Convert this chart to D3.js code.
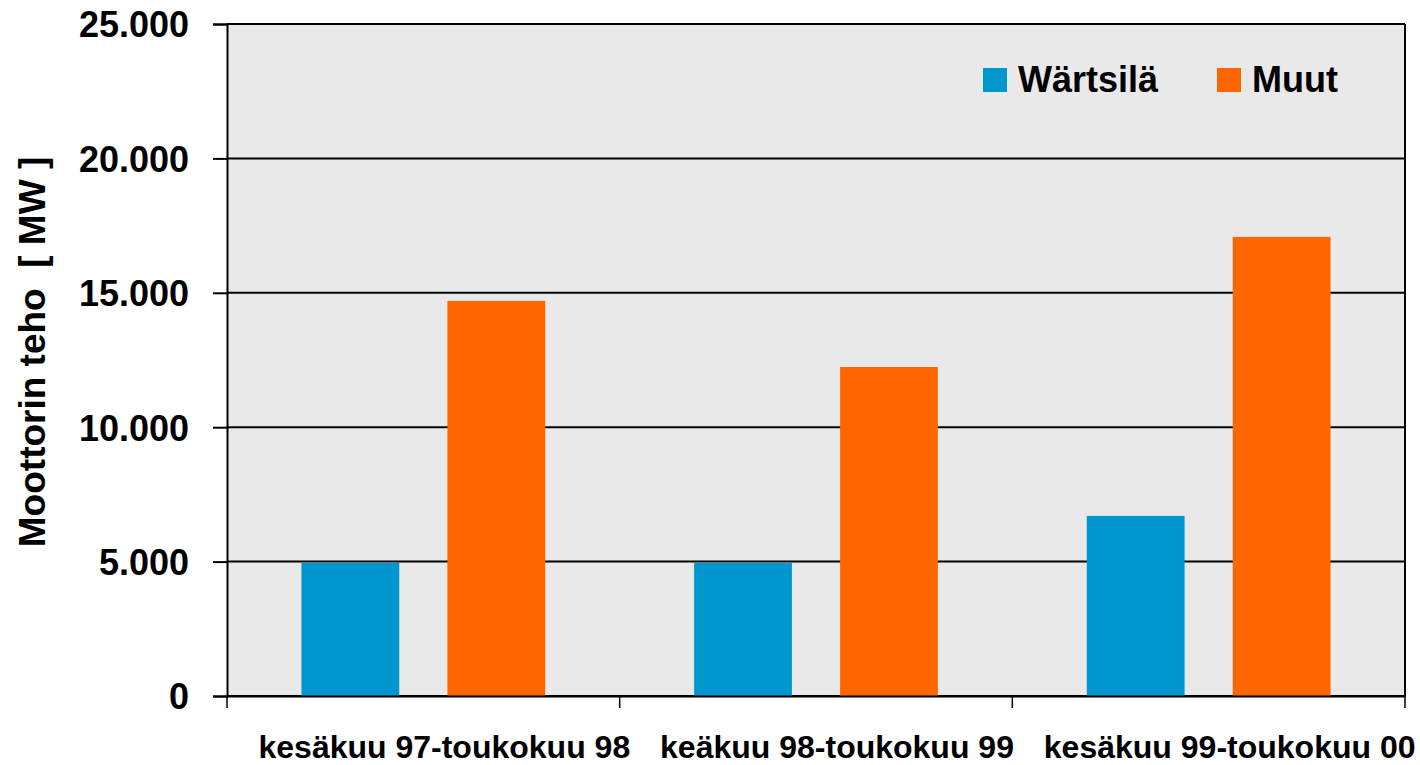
<!DOCTYPE html>
<html>
<head>
<meta charset="utf-8">
<style>
body { margin: 0; background: #fff; }
svg text { font-family: "Liberation Sans", Arial, sans-serif; font-weight: bold; fill: #000; }
.grid line { stroke: #000; stroke-width: 2px; }
</style>
<title>Moottorin teho</title>
</head>
<body>
<div id="chart"></div>
<script src="https://d3js.org/d3.v7.min.js"></script>
<script>
// data
var categories = ["kesäkuu 97-toukokuu 98", "keäkuu 98-toukokuu 99", "kesäkuu 99-toukokuu 00"];
var series = ["Wärtsilä", "Muut"];
var wartsila = [4950, 4950, 6700];
var muut = [14700, 12240, 17080];
var yTicks = [0, 5000, 10000, 15000, 20000, 25000];
var colors = ["#0096cf", "#ff6600"];

var width = 1420, height = 765;
var plotLeft = 227, plotRight = 1405, plotTop = 24, plotBottom = 696;

var svg = d3.select("#chart").append("svg")
    .attr("width", width)
    .attr("height", height);

var x = d3.scaleBand()
    .domain(categories)
    .range([plotLeft, plotRight]);

var xs = d3.scaleBand()
    .domain(series)
    .range([0, x.bandwidth()])
    .paddingInner(0.33)
    .paddingOuter(0.51);

var y = d3.scaleLinear()
    .domain([0, 25000])
    .range([plotBottom, plotTop]);

var color = d3.scaleOrdinal().domain(series).range(colors);

// plot background
svg.append("rect")
    .attr("x", plotLeft).attr("y", plotTop)
    .attr("width", plotRight - plotLeft).attr("height", plotBottom - plotTop)
    .attr("fill", "#e9e9e9");

// gridlines
svg.append("g")
    .attr("class", "grid")
    .selectAll("line")
    .data(yTicks)
    .enter().append("line")
    .attr("x1", plotLeft).attr("x2", plotRight)
    .attr("y1", function(d) { return y(d); })
    .attr("y2", function(d) { return y(d); });

// bars
var rows = categories.map(function(c, i) {
    return { cat: c, values: [wartsila[i], muut[i]] };
});

svg.append("g")
    .selectAll("g")
    .data(rows)
    .enter().append("g")
    .attr("transform", function(d) { return "translate(" + x(d.cat) + ",0)"; })
    .selectAll("rect")
    .data(function(d) { return d.values.map(function(v, j) { return { key: series[j], value: v }; }); })
    .enter().append("rect")
    .attr("x", function(d) { return xs(d.key); })
    .attr("y", function(d) { return y(d.value); })
    .attr("width", xs.bandwidth())
    .attr("height", function(d) { return plotBottom - y(d.value); })
    .attr("fill", function(d) { return color(d.key); });

// right border
svg.append("line")
    .attr("x1", plotRight).attr("x2", plotRight)
    .attr("y1", plotTop).attr("y2", plotBottom)
    .attr("stroke", "#000").attr("stroke-width", 2);

// y axis
var yAxis = svg.append("g")
    .attr("transform", "translate(" + plotLeft + ",0)")
    .call(d3.axisLeft(y)
        .tickValues(yTicks)
        .tickSize(14)
        .tickPadding(24)
        .tickFormat(function(d) { return d3.format(",")(d).replace(/,/g, "."); }));
yAxis.select(".domain").attr("stroke-width", 2);
yAxis.selectAll(".tick line").attr("stroke-width", 2);
yAxis.selectAll("text")
    .attr("font-size", 36)
    .attr("dy", "0.36em");

// x axis
var xAxis = svg.append("g")
    .attr("transform", "translate(0," + plotBottom + ")")
    .call(d3.axisBottom(x).tickSize(0).tickFormat(""));
xAxis.select(".domain").attr("stroke-width", 2);

svg.append("g")
    .selectAll("line")
    .data(categories.map(function(c) { return x(c); }).concat([plotRight]))
    .enter().append("line")
    .attr("x1", function(d) { return d; })
    .attr("x2", function(d) { return d; })
    .attr("y1", plotBottom).attr("y2", plotBottom + 12)
    .attr("stroke", "#000").attr("stroke-width", 1.5);

svg.append("g")
    .selectAll("text")
    .data(categories)
    .enter().append("text")
    .attr("x", function(d) { return x(d) + x.bandwidth() / 2 + 21; })
    .attr("y", 758)
    .attr("text-anchor", "middle")
    .attr("font-size", 32)
    .text(function(d) { return d; });

// y title
svg.append("text")
    .attr("transform", "translate(45,352) rotate(-90)")
    .attr("text-anchor", "middle")
    .attr("font-size", 37)
    .style("white-space", "pre")
    .text("Moottorin teho  [ MW ]");

// legend
var legendX = [983, 1217];
var legend = svg.append("g")
    .selectAll("g")
    .data(series)
    .enter().append("g")
    .attr("transform", function(d, i) { return "translate(" + legendX[i] + ",68)"; });

legend.append("rect")
    .attr("width", 24)
    .attr("height", 24)
    .attr("fill", function(d) { return color(d); });

legend.append("text")
    .attr("x", 35)
    .attr("y", 24)
    .attr("font-size", 36)
    .text(function(d) { return d; });
</script>
</body>
</html>
